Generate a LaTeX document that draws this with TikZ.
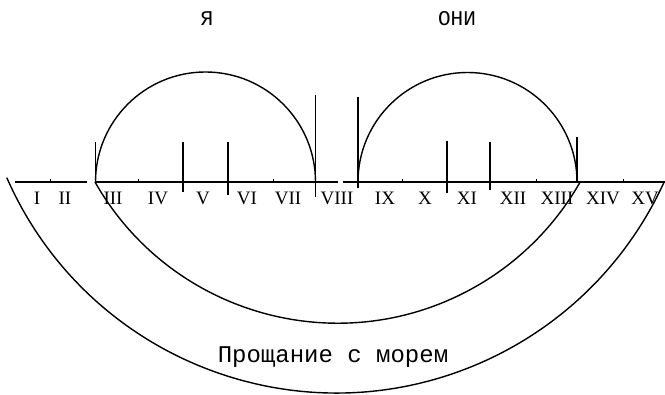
\documentclass[tikz,border=0pt]{standalone}
\usepackage{fontspec}
\setmainfont{Liberation Serif}
\newfontfamily\typefont{Liberation Mono}

\begin{document}
\begin{tikzpicture}[x=1pt,y=1pt,line width=1.4pt,
  numeral/.style={inner sep=0pt,font=\fontsize{19}{20}\selectfont},
  heading/.style={inner sep=0pt,font=\typefont\fontsize{21}{22}\selectfont},
  caption/.style={inner sep=0pt,font=\typefont\fontsize{24}{26}\selectfont}]
\path[use as bounding box] (0,0) rectangle (665,395);
% base line
\draw (15,213)--(87,213);
\draw (95,213)--(338,213);
\draw (343,213)--(665,213);
\draw[line width=.9pt] (50,213)--(50,215.5);
\draw[line width=.9pt] (138,213)--(138,215.5);
\draw[line width=.9pt] (273,213)--(273,215.5);
\draw[line width=.9pt] (402,213)--(402,215.5);
\draw[line width=.9pt] (536,213)--(536,215.5);
\draw[line width=.9pt] (623,213)--(623,215.5);
% upright marks
\draw (95.5,253)--(95.5,213);
\draw (183,253)--(183,203);
\draw (228,253)--(228,200);
\draw (315.5,300)--(315.5,198);
\draw (358,298)--(358,207);
\draw (447,254)--(447,202);
\draw (490,253)--(490,205);
\draw (577,258)--(577,213);
% arcs
\draw (95.5,213) arc[start angle=180,end angle=0,radius=110];
\draw (358,213) arc[start angle=180,end angle=0,radius=109.5];
\draw (95,213) arc[start angle=209.6,end angle=330.4,radius=279];
\draw (6.8,217.3) arc[start angle=203.7,end angle=335.6,radius=360];
% labels
\node[numeral] (n1) at (37,197) {I};
\node[numeral] (n2) at (65,197) {II};
\node[numeral] (n3) at (113,197) {III};
\node[numeral] (n4) at (158,197) {IV};
\node[numeral] (n5) at (203,197) {V};
\node[numeral] (n6) at (247,197) {VI};
\node[numeral] (n7) at (288,197) {VII};
\node[numeral] (n8) at (337,197) {VIII};
\node[numeral] (n9) at (385,197) {IX};
\node[numeral] (n10) at (425,197) {X};
\node[numeral] (n11) at (467,197) {XI};
\node[numeral] (n12) at (513,197) {XII};
\node[numeral] (n13) at (557,197) {XIII};
\node[numeral] (n14) at (603,197) {XIV};
\node[numeral] (n15) at (645,197) {XV};
\node[heading] (me) at (207,376) {Я};
\node[heading] (they) at (457,376) {ОНИ};
\node[caption] (title) at (333,38) {Прощание с морем};
\end{tikzpicture}
\end{document}
